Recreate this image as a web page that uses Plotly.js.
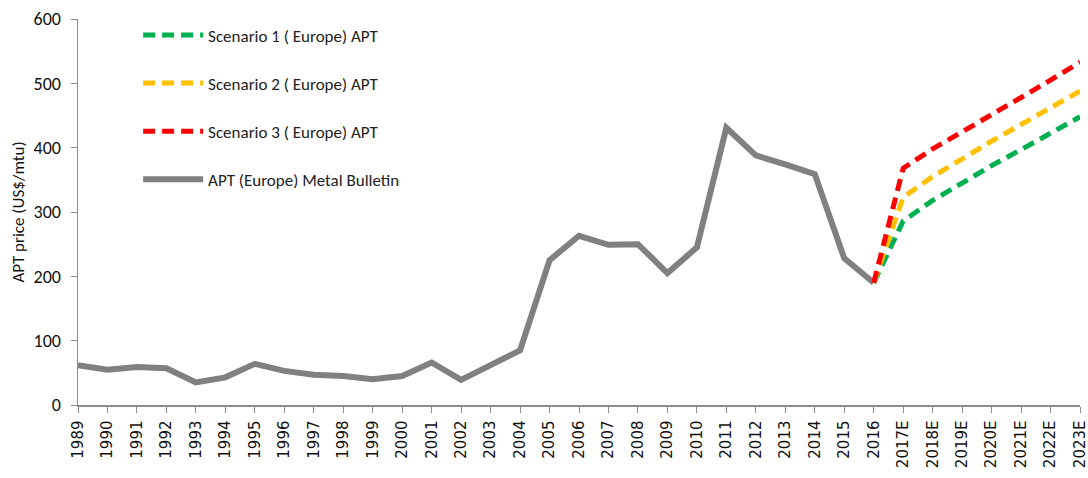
<!DOCTYPE html>
<html>
<head>
<meta charset="utf-8">
<script src="https://cdn.plot.ly/plotly-3.0.1.min.js"></script>
<style>html,body{margin:0;padding:0;background:#fff;}#chart{width:1088px;height:478px;}</style>
</head>
<body>
<div id="chart"></div>
<script>
var years = ["1989","1990","1991","1992","1993","1994","1995","1996","1997","1998","1999","2000","2001","2002","2003","2004","2005","2006","2007","2008","2009","2010","2011","2012","2013","2014","2015","2016"];
var forecastYears = ["2016","2017E","2018E","2019E","2020E","2021E","2022E","2023E"];
var allCategories = years.concat(forecastYears.slice(1));
var aptEurope = [62,55,59,57,35,43,64,53,47,45,40,45,66,39,62,85,225,263,249,250,205,245,431,388,374,359,228,190];
var scenario1 = [190,286,318,346,372,397,422,448];
var scenario2 = [190,323,355,383,410,436,462,488];
var scenario3 = [190,368,398,424,451,478,505,533];
var seriesNames = ["Scenario 1 ( Europe) APT","Scenario 2 ( Europe) APT","Scenario 3 ( Europe) APT","APT (Europe) Metal Bulletin"];
var yTicks = [0,100,200,300,400,500,600];

var narrow = "Carlito, 'Liberation Sans Narrow', 'Open Sans', sans-serif";
var legFont = {family:narrow, size:17, color:"#222"};
var traces = [
  {x:years, y:aptEurope, type:"scatter", mode:"lines", name:seriesNames[3], legendrank:4, legendgroup:"d",
   line:{color:"#808080", width:6}, cliponaxis:false},
  {x:forecastYears, y:scenario1, type:"scatter", mode:"lines", name:seriesNames[0], legendrank:1, legendgroup:"a",
   line:{color:"#00b050", width:5, dash:"12px,7px"}, cliponaxis:false},
  {x:forecastYears, y:scenario2, type:"scatter", mode:"lines", name:seriesNames[1], legendrank:2, legendgroup:"b",
   line:{color:"#ffc000", width:5, dash:"12px,7px"}, cliponaxis:false},
  {x:forecastYears, y:scenario3, type:"scatter", mode:"lines", name:seriesNames[2], legendrank:3, legendgroup:"c",
   line:{color:"#ff0000", width:5, dash:"12px,7px"}, cliponaxis:false}
];
var layout = {
  width:1088, height:478,
  margin:{l:78, r:8, t:19, b:73},
  paper_bgcolor:"#fff", plot_bgcolor:"#fff",
  showlegend:true,
  legend:{x:0.06, y:1.004, xanchor:"left", yanchor:"top", bgcolor:"rgba(0,0,0,0)", font:legFont,
          tracegroupgap:23, itemwidth:60, traceorder:"grouped"},
  xaxis:{type:"category", categoryorder:"array", categoryarray:allCategories, range:[0,34],
         tickvals:allCategories, ticktext:allCategories, tickangle:-90,
         showline:true, linecolor:"#8c8c8c", linewidth:1.5, ticks:"outside", ticklen:6, tickcolor:"#8c8c8c",
         showgrid:false, zeroline:false, ticklabelstandoff:2,
         tickfont:{family:"'DejaVu Sans', Verdana, sans-serif", size:15, color:"#111"}},
  yaxis:{range:[0,600], tickvals:yTicks, showline:true, linecolor:"#8c8c8c", linewidth:1.5,
         ticks:"outside", ticklen:6, tickcolor:"#8c8c8c", showgrid:false, zeroline:false, ticklabelstandoff:6,
         tickfont:{family:narrow, size:18, color:"#111"},
         title:{text:"APT price (US$/mtu)", standoff:4, font:{family:narrow, size:17, color:"#111"}}}
};
Plotly.newPlot("chart", traces, layout, {displayModeBar:false, staticPlot:true});
</script>
</body>
</html>
